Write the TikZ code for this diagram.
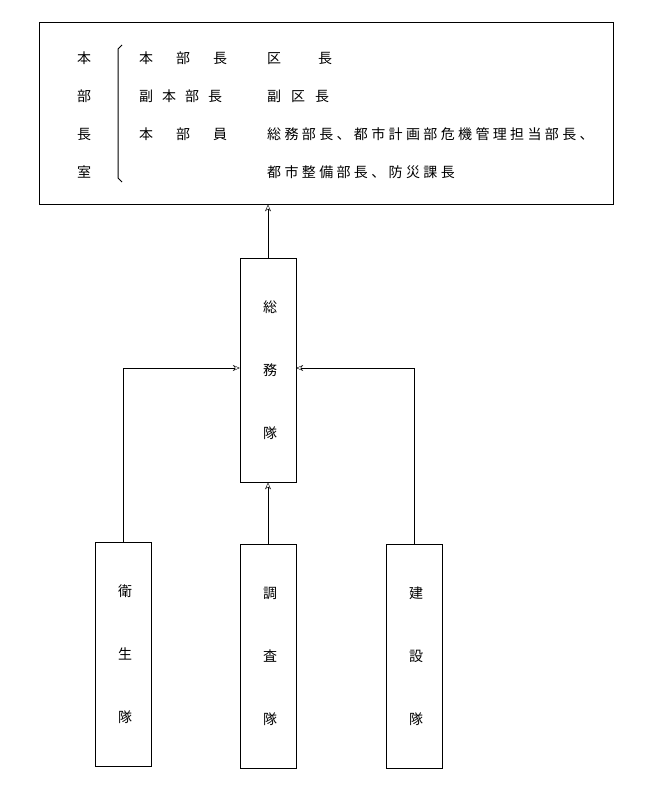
\documentclass[tikz,border=0pt]{standalone}
\usepackage{fontspec}
\setmainfont{Noto Sans CJK JP}[LetterSpace=24]
\usetikzlibrary{positioning,calc,arrows.meta}

\begin{document}
\begin{tikzpicture}[x=1pt,y=-1pt,
    font=\fontsize{14}{16}\selectfont,
    unit/.style={draw, minimum width=56pt, minimum height=224pt, inner sep=0pt},
    link/.style={-{Stealth[length=7pt,width=6pt,open]}}]
  \useasboundingbox (0,0) rectangle (650,802);
  % top box
  \node[draw, minimum width=574pt, minimum height=182pt, anchor=north west, inner sep=0pt] (hq) at (39,22) {};
  \foreach \ch/\y in {本/58, 部/96, 長/134, 室/172}
    \node (v\y) at (84,\y) {\ch};
  \draw[line width=1pt] (122,45) -- (118,49) -- (118,178) -- (122,182);
  \node[anchor=west, inner sep=0pt] (r1) at (139,58) {本\hspace{23pt}部\hspace{23pt}長};
  \node[anchor=west, inner sep=0pt] (r2) at (139,96) {副\hspace{9pt}本\hspace{9pt}部\hspace{9pt}長};
  \node[anchor=west, inner sep=0pt] (r3) at (139,134) {本\hspace{23pt}部\hspace{23pt}員};
  \node[anchor=west, inner sep=0pt] (s1) at (267,58) {区\hspace{37pt}長};
  \node[anchor=west, inner sep=0pt] (s2) at (267,96) {副\hspace{10pt}区\hspace{10pt}長};
  \node[anchor=west, inner sep=0pt] (s3) at (267,134) {総務部長、都市計画部危機管理担当部長、};
  \node[anchor=west, inner sep=0pt] (s4) at (267,172) {都市整備部長、防災課長};
  % units
  \node[unit, anchor=north] (somu) at (268,258) {};
  \node[unit, anchor=north] (eisei) at (123,542) {};
  \node[unit, anchor=north] (chosa) at (268,544) {};
  \node[unit, anchor=north] (kensetsu) at (414,544) {};
  \foreach \n/\a/\b/\c in {somu/総/務/隊, eisei/衛/生/隊, chosa/調/査/隊, kensetsu/建/設/隊} {
    \node at ($(\n.center)+(2,-63)$) {\a};
    \node at ($(\n.center)+(2,0)$) {\b};
    \node at ($(\n.center)+(2,63)$) {\c};
  }
  % connectors
  \coordinate (joinL) at (somu.west |- 0,368);
  \coordinate (joinR) at (somu.east |- 0,368);
  \draw[link] (somu.north) -- (hq.south -| somu.north);
  \draw[link] (chosa.north) -- (somu.south);
  \draw[link] (eisei.north) |- (joinL);
  \draw[link] (kensetsu.north) |- (joinR);
\end{tikzpicture}
\end{document}
